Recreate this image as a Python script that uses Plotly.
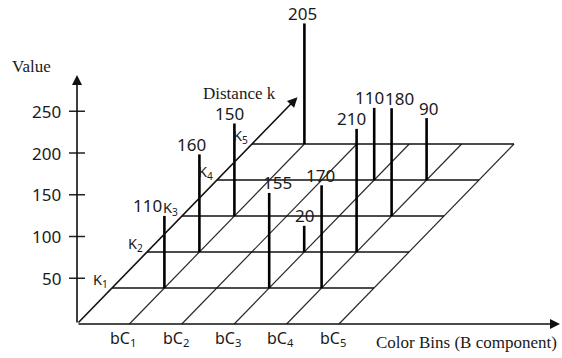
import plotly.graph_objects as go

# ---------------- data ----------------
bin_labels = ["bC<sub>1</sub>", "bC<sub>2</sub>", "bC<sub>3</sub>", "bC<sub>4</sub>", "bC<sub>5</sub>"]
dist_labels = ["K<sub>1</sub>", "K<sub>2</sub>", "K<sub>3</sub>", "K<sub>4</sub>", "K<sub>5</sub>"]
value_ticks = [50, 100, 150, 200, 250]

stem_bin = [1, 1, 1, 1, 3, 3, 4, 4, 3, 4, 4]        # colour bin index (bC_i)
stem_dist = [1, 2, 3, 5, 1, 2, 1, 2, 4, 3, 4]       # distance index (K_k)
stem_value = [110, 160, 150, 205, 155, 20, 170, 210, 110, 180, 90]

# ---------------- style / layout ----------------
label_dx = [-17, -8, -5, -2, 8, 0, -1, -5, -5, 8, 2]  # small horizontal nudges of value labels

W, H = 562, 358
X0, Y0 = 77, 324            # origin of the pseudo-3D frame
BIN_W = 52.4                # spacing of colour bins along x
DEPTH_DX, DEPTH_DY = 35, 36 # oblique offset per distance step
STEM_BASE, STEM_SCALE = 16, 0.51  # stem length = base + scale * value (px)
AXIS_Y0, AXIS_SCALE = 320, 0.835  # value axis scale
N_BINS, N_DIST = len(bin_labels), len(dist_labels)

SANS = "Noto Sans"
SERIF = "Liberation Serif"
INK = "#1a1a1a"


def proj(i, k):
    return (X0 + BIN_W * i + DEPTH_DX * k, Y0 - DEPTH_DY * k)


def stem_len(v):
    return STEM_BASE + STEM_SCALE * v


def axis_y(v):
    return AXIS_Y0 - AXIS_SCALE * v


fig = go.Figure()

# diagonal (distance) grid lines for each bin
dx_, dy_ = [], []
for i in range(1, N_BINS + 1):
    a, b = proj(i, 0), proj(i, N_DIST)
    dx_ += [a[0], b[0], None]
    dy_ += [a[1], b[1], None]
fig.add_trace(go.Scatter(x=dx_, y=dy_, mode="lines", line=dict(color="#2a2a2a", width=1.2),
                         hoverinfo="skip", showlegend=False))

# horizontal lines for each distance K_k
hx, hy = [], []
for k in range(1, N_DIST + 1):
    a, b = proj(0, k), proj(N_BINS, k)
    hx += [a[0], b[0], None]
    hy += [a[1], b[1], None]
fig.add_trace(go.Scatter(x=hx, y=hy, mode="lines", line=dict(color="#111", width=1.5),
                         hoverinfo="skip", showlegend=False))

# value axis ticks
tx, ty = [], []
for v in value_ticks:
    tx += [X0 - 8, X0 + 8, None]
    ty += [axis_y(v), axis_y(v), None]
fig.add_trace(go.Scatter(x=tx, y=ty, mode="lines", line=dict(color="#222", width=1.5),
                         hoverinfo="skip", showlegend=False))

# stems
sx, sy = [], []
tops = []
for i, k, v in zip(stem_bin, stem_dist, stem_value):
    bx, by = proj(i, k)
    top = by - stem_len(v)
    tops.append((bx, top))
    sx += [bx, bx, None]
    sy += [by, top, None]
fig.add_trace(go.Scatter(x=sx, y=sy, mode="lines", line=dict(color="#000", width=2.6),
                         hoverinfo="skip", showlegend=False))

ann = []


def arrow(x0, y0, x1, y1):
    ann.append(dict(x=x1, y=y1, ax=x0, ay=y0, xref="x", yref="y", axref="x", ayref="y",
                    showarrow=True, arrowhead=2, arrowsize=1.25, arrowwidth=1.6,
                    arrowcolor="#111", text="", standoff=0, startstandoff=0))


# axes arrows
arrow(X0, Y0, 560, Y0)          # colour bins axis
arrow(X0, Y0, X0, 75)           # value axis
ex, ey = proj(0, 6.3)
arrow(X0, Y0, ex, ey)           # distance axis


def text(x, y, s, size, family=SANS, xanchor="center", yanchor="middle", pad=1):
    ann.append(dict(x=x, y=y, xref="x", yref="y", text=s, showarrow=False,
                    xanchor=xanchor, yanchor=yanchor, borderpad=pad,
                    font=dict(family=family, size=size, color=INK)))


# value tick labels
for v in value_ticks:
    text(63, axis_y(v), str(v), 17, xanchor="right")

# bin labels
for i, s in enumerate(bin_labels, start=1):
    x, y = proj(i, 0)
    text(x - 6, y + 14, s, 16)

# distance labels
for k, s in enumerate(dist_labels, start=1):
    x, y = proj(0, k)
    text(x - 12, y - 8, s, 14.5, pad=0)

# stem value labels
for (x, top), v, d in zip(tops, stem_value, label_dx):
    text(x + d, top - 10, str(v), 17, pad=0)

# axis titles
text(31, 66, "Value", 17, family=SERIF)
text(239, 93, "Distance k", 17, family=SERIF)
text(466, 342, "Color Bins (B component)", 17, family=SERIF)

fig.update_layout(
    width=W, height=H, autosize=False,
    margin=dict(l=0, r=0, t=0, b=0),
    paper_bgcolor="white", plot_bgcolor="white",
    xaxis=dict(range=[0, W], visible=False, fixedrange=True),
    yaxis=dict(range=[H, 0], visible=False, fixedrange=True),
    annotations=ann,
    showlegend=False,
)

fig.write_html("out.html", config={"displayModeBar": False},
               post_script="document.body.style.margin='0';document.body.style.overflow='hidden';")
